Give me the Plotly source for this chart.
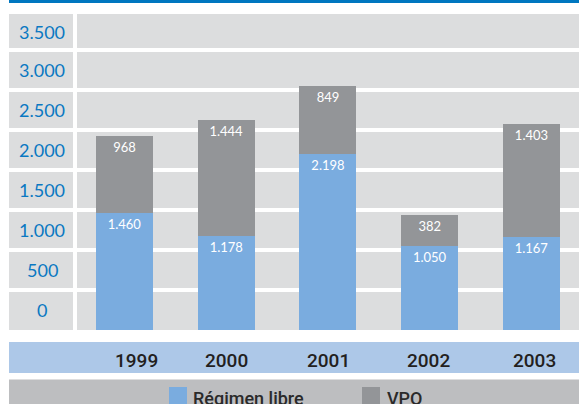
import plotly.graph_objects as go

years = ["1999", "2000", "2001", "2002", "2003"]
libre = [1460, 1178, 2198, 1050, 1167]
vpo = [968, 1444, 849, 382, 1403]
series_names = ["Régimen libre", "VPO"]
ytick_values = [0, 500, 1000, 1500, 2000, 2500, 3000, 3500]
ytick_labels = ["0", "500", "1.000", "1.500", "2.000", "2.500", "3.000", "3.500"]

W, H = 579, 404
L, T, B = 9, 14, 330  # plot area px
PW, PH = W - L, B - T
YMAX = 3950

def px_x(px):
    return (px - L) / PW

def px_y(py):
    return (B - py) / PH

BLUE = "#7AACDF"
GRAY = "#939598"
BG = "#DCDDDE"

fig = go.Figure()
fig.add_trace(go.Bar(
    x=years, y=libre, name=series_names[0], marker=dict(color=BLUE, line=dict(width=0)),
    texttemplate="%{y:,}", textposition="inside", insidetextanchor="end", textangle=0,
    textfont=dict(family="Lato", size=13, color="white"), width=0.56,
))
fig.add_trace(go.Bar(
    x=years, y=vpo, name=series_names[1], marker=dict(color=GRAY, line=dict(width=0)),
    texttemplate="%{y:,}", textposition="inside", insidetextanchor="end", textangle=0,
    textfont=dict(family="Lato", size=13, color="white"), width=0.56,
))

shapes = [
    # top blue strip
    dict(type="rect", xref="paper", yref="paper", x0=0, x1=1, y0=px_y(3), y1=px_y(0),
         fillcolor="#0077C0", line=dict(width=0), layer="above"),
    # white gap separating label column
    dict(type="rect", xref="paper", yref="paper", x0=px_x(73), x1=px_x(77), y0=0, y1=1,
         fillcolor="white", line=dict(width=0), layer="above"),
    # year band
    dict(type="rect", xref="paper", yref="paper", x0=0, x1=1, y0=px_y(373), y1=px_y(342),
         fillcolor="#ADC8E8", line=dict(width=0), layer="below"),
    # legend band
    dict(type="rect", xref="paper", yref="paper", x0=0, x1=1, y0=px_y(410), y1=px_y(379.5),
         fillcolor="#BDBEC0", line=dict(width=0), layer="below"),
    # legend swatches
    dict(type="rect", xref="paper", yref="paper", x0=px_x(169), x1=px_x(187), y0=px_y(410), y1=px_y(387),
         fillcolor=BLUE, line=dict(width=0), layer="above"),
    dict(type="rect", xref="paper", yref="paper", x0=px_x(362), x1=px_x(380), y0=px_y(410), y1=px_y(387),
         fillcolor=GRAY, line=dict(width=0), layer="above"),
]

annotations = []
# y labels centred in the cells of the left column
for i, (v, lab) in enumerate(zip(ytick_values, ytick_labels)):
    nxt = ytick_values[i + 1] if i + 1 < len(ytick_values) else YMAX
    annotations.append(dict(
        x=px_x(42), xref="paper", y=(v + nxt) / 2, yref="y", text=lab, showarrow=False,
        xanchor="center", yanchor="middle",
        font=dict(family="Lato", size=18, color="#0A78C2"),
    ))
# year labels
year_px = [136, 226, 328, 428, 534.5]
for yr, xp in zip(years, year_px):
    annotations.append(dict(
        x=px_x(xp), xref="paper", y=px_y(360), yref="paper", text=yr, showarrow=False,
        xanchor="center", yanchor="middle",
        font=dict(family="Roboto", size=19, weight=500, color="#231F20"),
    ))
# legend labels
for name, xp in zip(series_names, [191, 385]):
    annotations.append(dict(
        x=px_x(xp), xref="paper", y=px_y(385.5), yref="paper", text=name, showarrow=False,
        xanchor="left", yanchor="top",
        font=dict(family="Roboto", size=18, weight=500, color="#2A2A2A"),
    ))

fig.update_layout(
    width=W, height=H,
    margin=dict(l=L, r=0, t=T, b=H - B, pad=0),
    barmode="stack",
    separators=",.",
    paper_bgcolor="white",
    plot_bgcolor=BG,
    showlegend=False,
    shapes=shapes,
    annotations=annotations,
    xaxis=dict(type="category", range=[-1.135, 4.467], showticklabels=False, showgrid=False,
               zeroline=False, showline=False, ticks=""),
    yaxis=dict(range=[0, YMAX], tickvals=ytick_values[1:], showticklabels=False, showgrid=True,
               gridcolor="white", gridwidth=4, zeroline=False, showline=False, ticks=""),
)

fig.write_html("out.html", config={"displayModeBar": False},
               post_script="document.body.style.margin='0';document.body.style.overflow='hidden';")
